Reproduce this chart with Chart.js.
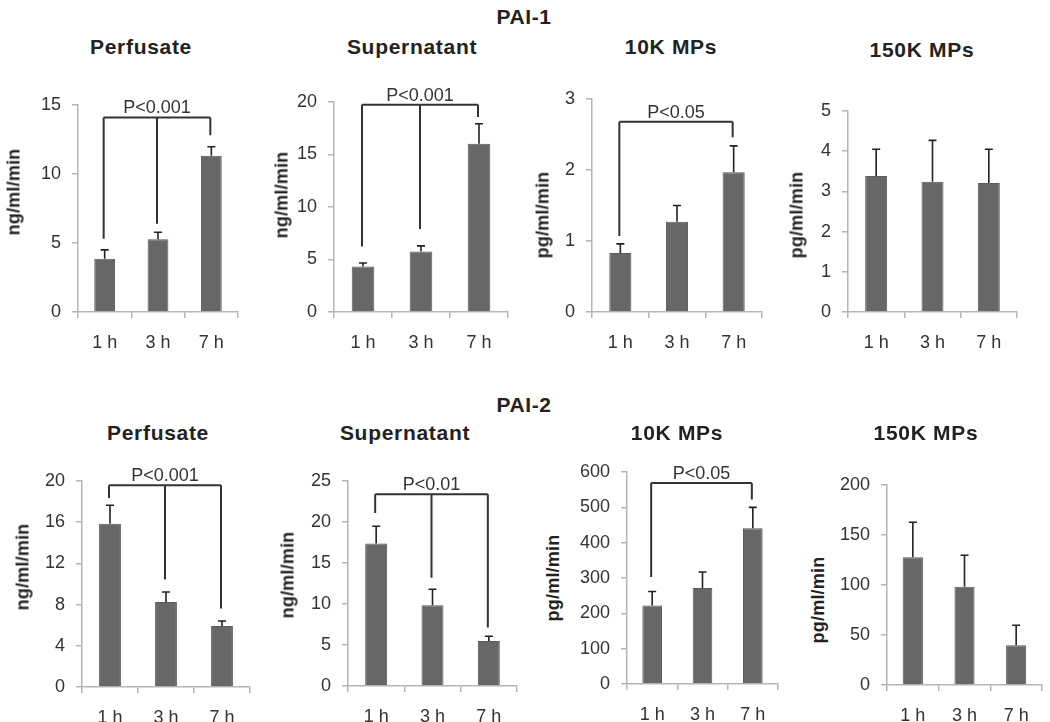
<!DOCTYPE html>
<html>
<head>
<meta charset="utf-8">
<script src="https://cdn.jsdelivr.net/npm/chart.js@4"></script>
<style>
  body { margin: 0; background: #fff; }
  #fig { position: relative; width: 1050px; height: 722px; overflow: hidden; font-family: "Liberation Sans", Arial, sans-serif; color: #222; }
  #fig canvas { position: absolute; }
  .main { position: absolute; font-weight: bold; font-size: 21px; letter-spacing: 0.6px; transform: translate(-50%, -50%); white-space: nowrap; }
  .ptitle { position: absolute; font-weight: bold; font-size: 21px; letter-spacing: 0.7px; transform: translate(-50%, -50%); white-space: nowrap; }
  .ylab { position: absolute; font-weight: bold; font-size: 18px; letter-spacing: 0.2px; transform: translate(-50%, -50%) rotate(-90deg); white-space: nowrap; }
</style>
</head>
<body>
<div id="fig"></div>
<script>
// categories shared by every panel
const categories = ['1 h', '3 h', '7 h'];

// PAI-1 (top row)
const pai1PerfusateMean = [3.86, 5.27, 11.33];
const pai1PerfusateErr = [0.64, 0.51, 0.65];
const pai1PerfusateTicks = [0, 5, 10, 15];

const pai1SupernatantMean = [4.34, 5.77, 16.03];
const pai1SupernatantErr = [0.33, 0.53, 1.9];
const pai1SupernatantTicks = [0, 5, 10, 15, 20];

const pai1Mp10Mean = [0.83, 1.27, 1.97];
const pai1Mp10Err = [0.13, 0.23, 0.37];
const pai1Mp10Ticks = [0, 1, 2, 3];

const pai1Mp150Mean = [3.38, 3.24, 3.21];
const pai1Mp150Err = [0.67, 1.03, 0.84];
const pai1Mp150Ticks = [0, 1, 2, 3, 4, 5];

// PAI-2 (bottom row)
const pai2PerfusateMean = [15.86, 8.25, 5.92];
const pai2PerfusateErr = [1.78, 0.97, 0.49];
const pai2PerfusateTicks = [0, 4, 8, 12, 16, 20];

const pai2SupernatantMean = [17.37, 9.84, 5.49];
const pai2SupernatantErr = [2.11, 1.95, 0.57];
const pai2SupernatantTicks = [0, 5, 10, 15, 20, 25];

const pai2Mp10Mean = [222, 272, 441];
const pai2Mp10Err = [40, 45, 59];
const pai2Mp10Ticks = [0, 100, 200, 300, 400, 500, 600];

const pai2Mp150Mean = [127.7, 98.3, 39.7];
const pai2Mp150Err = [35, 31.4, 20];
const pai2Mp150Ticks = [0, 50, 100, 150, 200];

// significance brackets: bar height (data units), leg ends per category, label
const pai1PerfusateSig = { level: 14.1, legs: [5.3, 6.4, 12.8], text: 'P<0.001' };
const pai1SupernatantSig = { level: 19.74, legs: [6.25, 7.9, 18.57], text: 'P<0.001' };
const pai1Mp10Sig = { level: 2.68, legs: [1.07, null, 2.46], text: 'P<0.05' };
const pai2PerfusateSig = { level: 19.58, legs: [18.35, 10.43, 7.61], text: 'P<0.001' };
const pai2SupernatantSig = { level: 23.38, legs: [21.1, 13.2, 7.12], text: 'P<0.01' };
const pai2Mp10Sig = { level: 569, legs: [303, null, 522], text: 'P<0.05' };

const font = '"Liberation Sans", Arial, sans-serif';

// layout of each panel: plot box in page pixels, titles
const panels = [
  { mean: pai1PerfusateMean, err: pai1PerfusateErr, ticks: pai1PerfusateTicks, sig: pai1PerfusateSig,
    box: [78, 105, 238, 312], title: 'Perfusate', tpos: [141, 47], ylab: 'ng/ml/min', ypos: [14, 192] },
  { mean: pai1SupernatantMean, err: pai1SupernatantErr, ticks: pai1SupernatantTicks, sig: pai1SupernatantSig,
    box: [334, 102, 508, 312], title: 'Supernatant', tpos: [412, 47], ylab: 'ng/ml/min', ypos: [282, 195] },
  { mean: pai1Mp10Mean, err: pai1Mp10Err, ticks: pai1Mp10Ticks, sig: pai1Mp10Sig,
    box: [592, 99, 762, 312], title: '10K MPs', tpos: [671, 47], ylab: 'pg/ml/min', ypos: [543, 215] },
  { mean: pai1Mp150Mean, err: pai1Mp150Err, ticks: pai1Mp150Ticks, sig: null,
    box: [848, 111, 1017, 312], title: '150K MPs', tpos: [922, 50], ylab: 'pg/ml/min', ypos: [797, 215] },
  { mean: pai2PerfusateMean, err: pai2PerfusateErr, ticks: pai2PerfusateTicks, sig: pai2PerfusateSig,
    box: [82, 481, 250, 687], title: 'Perfusate', tpos: [158, 433], ylab: 'ng/ml/min', ypos: [23, 567] },
  { mean: pai2SupernatantMean, err: pai2SupernatantErr, ticks: pai2SupernatantTicks, sig: pai2SupernatantSig,
    box: [348, 481, 517, 686], title: 'Supernatant', tpos: [405, 433], ylab: 'ng/ml/min', ypos: [288, 575] },
  { mean: pai2Mp10Mean, err: pai2Mp10Err, ticks: pai2Mp10Ticks, sig: pai2Mp10Sig,
    box: [627, 472, 778, 684], title: '10K MPs', tpos: [677, 433], ylab: 'pg/ml/min', ypos: [553, 578] },
  { mean: pai2Mp150Mean, err: pai2Mp150Err, ticks: pai2Mp150Ticks, sig: null,
    box: [887, 485, 1042, 685], title: '150K MPs', tpos: [926, 433], ylab: 'pg/ml/min', ypos: [818, 600] }
];

// error bars (upper half only) and the P-value brackets
const extrasPlugin = {
  id: 'extras',
  afterDatasetsDraw(chart, args, opts) {
    const ctx = chart.ctx;
    const y = chart.scales.y;
    const bars = chart.getDatasetMeta(0).data;
    ctx.save();
    ctx.strokeStyle = '#222';
    ctx.lineWidth = 1.6;
    opts.err.forEach((e, i) => {
      const x = bars[i].x;
      const y0 = y.getPixelForValue(opts.mean[i]);
      const y1 = y.getPixelForValue(opts.mean[i] + e);
      ctx.beginPath();
      ctx.moveTo(x, y0); ctx.lineTo(x, y1);
      ctx.moveTo(x - 4, y1); ctx.lineTo(x + 4, y1);
      ctx.stroke();
    });
    const sig = opts.sig;
    if (sig) {
      ctx.strokeStyle = '#333';
      ctx.lineWidth = 2;
      const yl = y.getPixelForValue(sig.level);
      const xs = [];
      ctx.beginPath();
      sig.legs.forEach((v, i) => {
        if (v === null) return;
        const x = bars[i].x - 1;
        xs.push(x);
        ctx.moveTo(x, yl); ctx.lineTo(x, y.getPixelForValue(v));
      });
      ctx.moveTo(Math.min(...xs), yl); ctx.lineTo(Math.max(...xs), yl);
      ctx.stroke();
      ctx.fillStyle = '#333';
      ctx.font = '18px ' + font;
      ctx.textAlign = 'center';
      ctx.textBaseline = 'alphabetic';
      ctx.fillText(sig.text, (Math.min(...xs) + Math.max(...xs)) / 2, yl - 4);
    }
    ctx.restore();
  }
};

const fig = document.getElementById('fig');

function addText(cls, text, pos) {
  const d = document.createElement('div');
  d.className = cls;
  d.textContent = text;
  d.style.left = pos[0] + 'px';
  d.style.top = pos[1] + 'px';
  fig.appendChild(d);
}

addText('main', 'PAI-1', [524, 17]);
addText('main', 'PAI-2', [524, 405]);

const padL = 55, padT = 30, padR = 10, padB = 45;

panels.forEach(p => {
  const [l, t, r, b] = p.box;
  const cv = document.createElement('canvas');
  cv.width = (r + padR) - (l - padL);
  cv.height = (b + padB) - (t - padT);
  cv.style.left = (l - padL) + 'px';
  cv.style.top = (t - padT) + 'px';
  fig.appendChild(cv);

  addText('ptitle', p.title, p.tpos);
  addText('ylab', p.ylab, p.ypos);

  const tk = p.ticks;
  new Chart(cv, {
    type: 'bar',
    data: {
      labels: categories,
      datasets: [{
        data: p.mean,
        backgroundColor: '#676767',
        borderColor: '#5a5a5a',
        borderWidth: 1,
        categoryPercentage: 1,
        barPercentage: 0.39
      }]
    },
    options: {
      responsive: false,
      animation: false,
      layout: { padding: { top: padT, right: padR, left: 0, bottom: 0 } },
      plugins: {
        legend: { display: false },
        tooltip: { enabled: false },
        extras: { mean: p.mean, err: p.err, sig: p.sig }
      },
      scales: {
        x: {
          afterFit(s) { s.height = padB; },
          border: { color: '#b5b5b5', width: 1.5 },
          grid: { drawOnChartArea: false, color: '#b5b5b5', lineWidth: 1.5, tickLength: 6 },
          ticks: { color: '#333', font: { family: font, size: 18 }, padding: 14 }
        },
        y: {
          min: tk[0],
          max: tk[tk.length - 1],
          afterFit(s) { s.width = padL; },
          border: { color: '#b5b5b5', width: 1.5 },
          grid: { drawOnChartArea: false, color: '#b5b5b5', lineWidth: 1.5, tickLength: 6 },
          ticks: { stepSize: tk[1] - tk[0], color: '#333', font: { family: font, size: 18 }, padding: 11 }
        }
      }
    },
    plugins: [extrasPlugin]
  });
});
</script>
</body>
</html>
